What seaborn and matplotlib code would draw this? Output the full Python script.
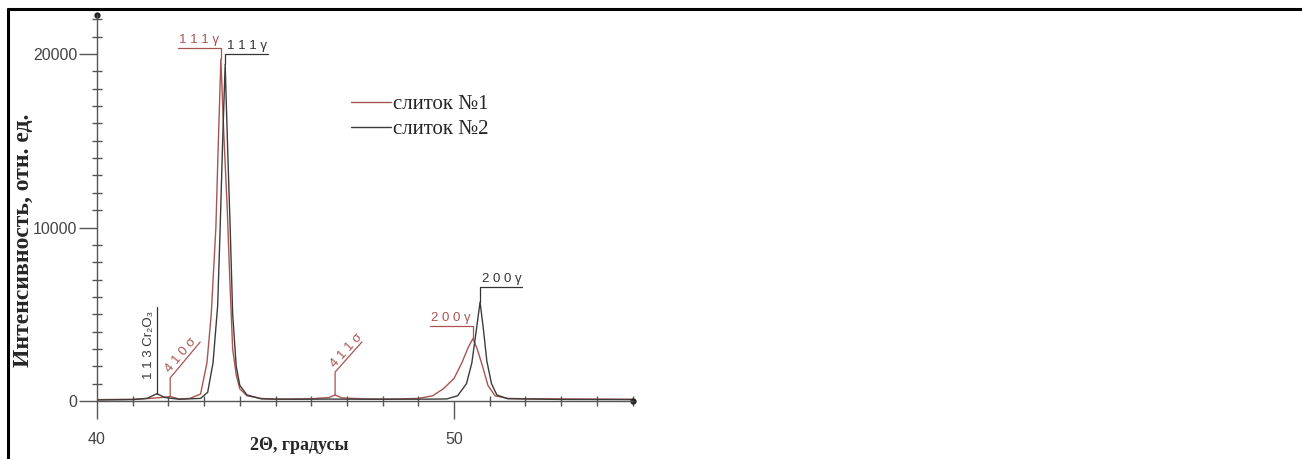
"""
xrd_ingots.py
"""

import matplotlib.pyplot as plt
import matplotlib.lines as mlines
import pandas as pd
import seaborn as sns

# ingot 1 (red)
two_theta_1 = [40.0, 40.5, 41.0, 41.5, 41.8, 42.05, 42.3, 42.6, 42.9, 43.08,
               43.2, 43.33, 43.4, 43.47, 43.55, 43.65, 43.72, 43.8, 43.9,
               44.0, 44.2, 44.6, 45.0, 45.5, 46.0, 46.5, 46.67, 46.85, 47.5,
               48.0, 48.5, 49.0, 49.4, 49.7, 50.0, 50.22, 50.4, 50.53, 50.65,
               50.8, 50.95, 51.15, 51.5, 52.0, 53.0, 54.0, 55.0]
intensity_1 = [80, 90, 100, 150, 200, 260, 120, 150, 400, 2200,
               5000, 10000, 15000, 19700, 15500, 11000, 7000, 3000, 1500,
               700, 300, 150, 100, 120, 130, 200, 350, 180, 120,
               110, 120, 150, 300, 700, 1300, 2200, 3100, 3600, 3000,
               2000, 900, 300, 150, 130, 120, 110, 100]

# ingot 2 (black)
two_theta_2 = [40.0, 41.0, 41.4, 41.68, 41.9, 42.3, 42.9, 43.1, 43.25, 43.38,
               43.45, 43.52, 43.59, 43.66, 43.73, 43.8, 43.9, 44.0, 44.2,
               44.6, 45.5, 46.5, 48.0, 49.5, 49.8, 50.1, 50.35, 50.5, 50.62,
               50.73, 50.82, 50.92, 51.05, 51.2, 51.5, 53.0, 55.0]
intensity_2 = [60, 80, 150, 420, 200, 100, 150, 500, 2200, 5500,
               10000, 15000, 19400, 14500, 10000, 5000, 2000, 900, 350,
               120, 100, 110, 100, 110, 120, 300, 1000, 2200, 4000,
               5700, 4200, 2300, 1000, 350, 130, 90, 80]

series_names = ["слиток №1", "слиток №2"]
series_colors = ["#a8554f", "#3c3c3c"]

x_ticks = [40, 50]
y_ticks = [0, 10000, 20000]

RED = "#a8554f"
DARK = "#333333"
GRAY = "#555555"
SERIF = ["Liberation Serif", "DejaVu Serif"]

df = pd.concat([
    pd.DataFrame({"x": two_theta_1, "y": intensity_1, "s": series_names[0]}),
    pd.DataFrame({"x": two_theta_2, "y": intensity_2, "s": series_names[1]}),
])

sns.set_style("ticks")
plt.rcParams["font.family"] = ["Liberation Sans", "DejaVu Sans"]

fig = plt.figure(figsize=(13.02, 4.59), dpi=100)
ax = fig.add_axes([97 / 1302, 1 - 401 / 459, 535.5 / 1302, 386 / 459])

sns.lineplot(
    data=df, x="x", y="y", hue="s",
    palette=dict(zip(series_names, series_colors)),
    estimator=None, sort=False, linewidth=1.0, legend=False, ax=ax
)

ax.set_xlim(40, 55)
ax.set_ylim(0, 22250)
ax.set_xticks(x_ticks)
ax.set_yticks(y_ticks)
ax.set_xticks(range(40, 56), minor=True)
ax.set_yticks(range(0, 22001, 1000), minor=True)
ax.tick_params(which="major", direction="out", length=13, width=1,
               color=GRAY, labelcolor="#444444", labelsize=11.5)
ax.tick_params(which="minor", direction="inout", length=7, width=1,
               color=GRAY)
ax.tick_params(axis="x", which="major", pad=9)
ax.tick_params(axis="y", which="major", pad=1)
ax.set_xlabel("")
ax.set_ylabel("")

for side in ["top", "right"]:
    ax.spines[side].set_visible(False)
for side in ["left", "bottom"]:
    ax.spines[side].set_color(GRAY)
    ax.spines[side].set_linewidth(1.0)

# arrow dots at axis ends
ax.plot([0, 1], [1, 0], "o", ms=3.5, color="#222222",
        transform=ax.transAxes, clip_on=False)

ax.text(0.377, -0.115, "2Θ, градусы", transform=ax.transAxes,
        ha="center", va="center", fontsize=13, fontweight="bold",
        family=SERIF)
ax.text(-0.138, 0.417, "Интенсивность, отн. ед.", transform=ax.transAxes,
        ha="center", va="center", rotation=90, fontsize=17,
        fontweight="bold", family=SERIF)

# legend
handles = [mlines.Line2D([], [], color=c, lw=1.0) for c in series_colors]
ax.legend(handles, series_names, loc="upper left",
          bbox_to_anchor=(0.44, 0.842), frameon=False,
          handlelength=1.9, handletextpad=0.1, labelspacing=0.25,
          prop={"family": SERIF, "size": 15})

# peak annotations: label with horizontal shelf and drop line
ann_kw = dict(fontsize=9.5, va="bottom")
ax.plot([42.27, 43.47, 43.47], [20350, 20350, 19700], color=RED, lw=0.9)
ax.text(42.3, 20450, "1 1 1 γ", color=RED, ha="left", **ann_kw)
ax.plot([43.59, 43.59, 44.79], [19400, 20000, 20000], color=DARK, lw=0.9)
ax.text(43.65, 20100, "1 1 1 γ", color=DARK, ha="left", **ann_kw)
ax.plot([51.9, 50.73, 50.73], [6570, 6570, 5700], color=DARK, lw=0.9)
ax.text(50.78, 6670, "2 0 0 γ", color=DARK, ha="left", **ann_kw)
ax.plot([49.33, 50.53, 50.53], [4320, 4320, 3600], color=RED, lw=0.9)
ax.text(49.36, 4420, "2 0 0 γ", color=RED, ha="left", **ann_kw)

# small peaks
ax.plot([41.68, 41.68], [420, 5420], color=DARK, lw=0.9)
ax.text(41.62, 1250, "1 1 3 Cr₂O₃", color=DARK, rotation=90,
        ha="right", va="bottom", fontsize=9.5)
ax.plot([42.05, 42.05, 42.89], [260, 1330, 3400], color=RED, lw=0.9)
ax.text(42.1, 1500, "4 1 0 σ", color=RED, rotation=50,
        ha="left", va="bottom", fontsize=9.5, rotation_mode="anchor")
ax.plot([46.67, 46.67, 47.42], [350, 1670, 3400], color=RED, lw=0.9)
ax.text(46.72, 1800, "4 1 1 σ", color=RED, rotation=48,
        ha="left", va="bottom", fontsize=9.5, rotation_mode="anchor")

# cropped frame of the source picture
fig.add_artist(mlines.Line2D([8 / 1302, 1], [1 - 9 / 459] * 2,
                             color="black", lw=2.2))
fig.add_artist(mlines.Line2D([8 / 1302] * 2, [0, 1 - 9 / 459],
                             color="black", lw=2.2))

plt.savefig("out.png", dpi=100)
plt.close()
